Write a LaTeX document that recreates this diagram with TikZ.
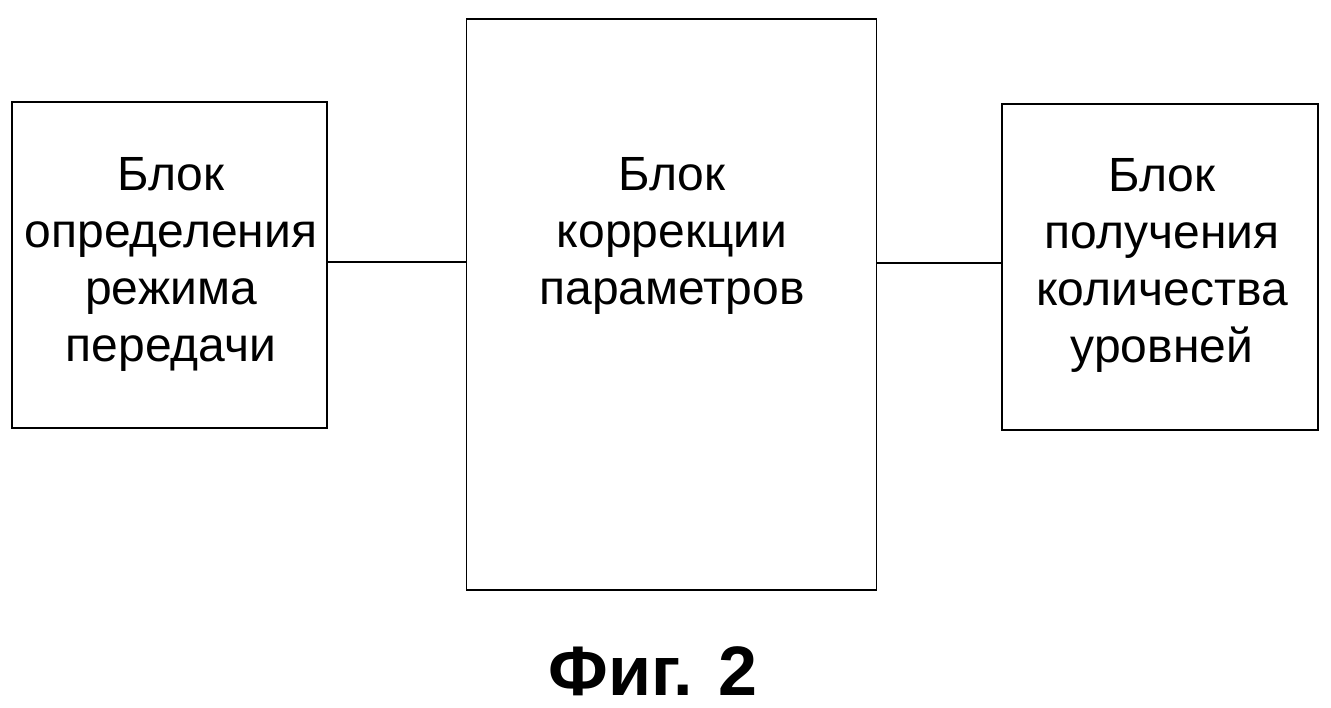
\documentclass[tikz,border=0pt]{standalone}
\usepackage{fontspec}
\setmainfont{Liberation Sans}
\begin{document}
\begin{tikzpicture}[x=1pt,y=-1pt,
  box/.style={draw=black,line width=1.8pt,inner sep=0pt},
  lbl/.style={align=center,font=\fontsize{48}{57}\selectfont,inner sep=0pt},
  conn/.style={draw=black,line width=1.8pt}]
\useasboundingbox (0,0) rectangle (1331,708);
\node[box,minimum width=315pt,minimum height=326pt] (L) at (169.5,265) {};
\node[box,minimum width=410pt,minimum height=571pt] (M) at (671.5,304.5) {};
\node[box,minimum width=316pt,minimum height=326pt] (R) at (1160,267) {};
\node[lbl] (Lt) at (171,264) {Блок\\определения\\режима\\передачи};
\node[lbl] (Mt) at (672,236) {Блок\\коррекции\\параметров};
\node[lbl] (Rt) at (1162,265) {Блок\\получения\\количества\\уровней};
\draw[conn] (L.east |- 0,262) -- (M.west |- 0,262);
\draw[conn] (M.east |- 0,263) -- (R.west |- 0,263);
\node[font=\fontsize{70}{80}\selectfont\bfseries,inner sep=0pt,anchor=base] (cap) at (653,695) {Фиг. 2};
\end{tikzpicture}
\end{document}
